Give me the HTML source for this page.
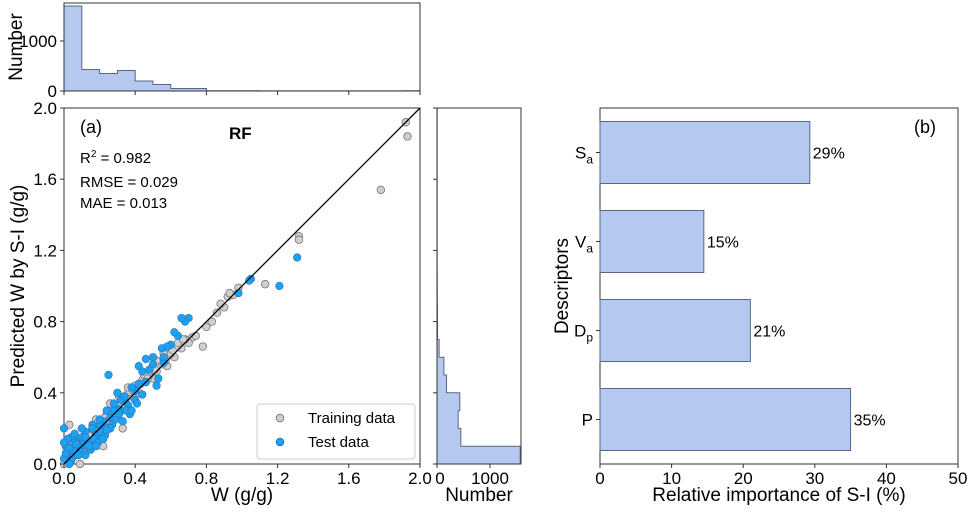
<!DOCTYPE html>
<html><head><meta charset="utf-8"><style>
body{margin:0;background:#fff;font-family:"Liberation Sans",Arial,sans-serif}
svg text{font-family:"Liberation Sans",Arial,sans-serif;fill:#000}
</style></head><body>
<svg id="chart" width="969" height="509" viewBox="0 0 969 509"></svg>
<script>
// ---- data ----
const topHistCounts=[1700,430,350,410,200,130,50,50,5,5,5,3,3,3,3,3,3,3,3,5];
const sideHistCounts=[1570,450,400,430,180,130,40,10,8,5,4,3,3,3,3,3,3,3,3,3];
const trainX=[1.92,1.93,1.78,1.32,1.32,1.13,0.95,0.98,0.9,0.92,0.86,0.83,0.8,0.78,0.72,0.7,0.68,0.66,0.62,0.6,0.58,0.55,0.52,0.5,0.48,0.46,0.44,0.42,0.4,0.38,0.36,0.34,0.32,0.3,0.28,0.26,0.24,0.22,0.2,0.18,0.16,0.14,0.12,0.1,0.08,0.06,0.04,0.02,0.01,0.0,0.26,0.31,0.48,0.52,0.33,0.18,0.12,0.05,0.03,0.22,0.4,0.64,0.56,0.45,0.36,0.15,0.09,0.07,0.02,0.05,0.08,0.11,0.13,0.17,0.21,0.25,0.29,0.35,0.39,0.43,0.47,0.51,0.57,0.61,0.67,0.74,0.88,0.93,0.01,0.04,0.07,0.1,0.14,0.19,0.23,0.27,0.16,0.2,0.28];
const trainY=[1.92,1.84,1.54,1.28,1.26,1.01,0.95,0.99,0.88,0.94,0.85,0.8,0.77,0.66,0.71,0.68,0.7,0.65,0.6,0.62,0.55,0.56,0.52,0.48,0.5,0.46,0.47,0.4,0.42,0.38,0.4,0.35,0.3,0.33,0.3,0.24,0.28,0.2,0.22,0.18,0.1,0.15,0.12,0.14,0.05,0.1,0.06,0.03,0.01,0.0,0.34,0.38,0.52,0.58,0.2,0.25,0.08,0.12,0.22,0.1,0.44,0.68,0.62,0.5,0.43,0.12,0.0,0.07,0.04,0.08,0.1,0.09,0.14,0.19,0.22,0.27,0.31,0.37,0.41,0.45,0.48,0.53,0.58,0.64,0.7,0.72,0.9,0.96,0.12,0.02,0.13,0.06,0.16,0.23,0.26,0.3,0.2,0.17,0.26];
const testX=[1.21,1.31,1.05,1.04,0.98,0.7,0.68,0.66,0.64,0.6,0.58,0.56,0.5,0.48,0.46,0.44,0.42,0.4,0.38,0.36,0.34,0.32,0.3,0.28,0.26,0.24,0.22,0.2,0.18,0.16,0.14,0.12,0.1,0.08,0.06,0.04,0.02,0.0,0.0,0.01,0.25,0.32,0.37,0.4,0.46,0.53,0.56,0.28,0.24,0.18,0.15,0.12,0.06,0.04,0.1,0.2,0.3,0.34,0.42,0.5,0.62,0.55,0.01,0.03,0.05,0.07,0.09,0.11,0.13,0.17,0.19,0.21,0.23,0.27,0.29,0.31,0.33,0.35,0.02,0.04,0.06,0.08,0.1,0.14,0.16,0.22,0.26,0.38,0.41,0.44,0.52,0.0,0.03,0.12,0.18,0.24];
const testY=[1.0,1.16,1.04,1.03,0.96,0.82,0.8,0.82,0.72,0.67,0.66,0.57,0.6,0.53,0.59,0.52,0.55,0.41,0.43,0.33,0.36,0.3,0.31,0.3,0.26,0.2,0.24,0.22,0.17,0.22,0.12,0.18,0.1,0.13,0.08,0.15,0.05,0.03,0.2,0.1,0.5,0.36,0.28,0.36,0.46,0.48,0.6,0.34,0.3,0.16,0.08,0.05,0.12,0.02,0.2,0.25,0.4,0.38,0.45,0.56,0.74,0.65,0.06,0.09,0.04,0.11,0.07,0.13,0.1,0.14,0.12,0.18,0.16,0.22,0.25,0.28,0.24,0.3,0.14,0.02,0.17,0.05,0.15,0.1,0.2,0.14,0.2,0.3,0.34,0.39,0.44,0.12,0.0,0.15,0.1,0.19];
const descriptors=["Sa","Va","Dp","P"];
const importance=[29.3,14.5,21,35];
const importanceLabels=["29%","15%","21%","35%"];
const mainTicks=[0,0.4,0.8,1.2,1.6,2.0];
const mainTickLabels=["0.0","0.4","0.8","1.2","1.6","2.0"];
const impTicks=[0,10,20,30,40,50];

const svg=document.getElementById('chart');
const NS='http://www.w3.org/2000/svg';
function mk(tag,attrs,parent,txt){const e=document.createElementNS(NS,tag);for(const k in attrs)e.setAttribute(k,attrs[k]);if(txt!==undefined)e.textContent=txt;(parent||svg).appendChild(e);return e;}
const L=64,R=420,T=108,B=464;
const sx=v=>L+(v/2)*(R-L);
const sy=v=>B-(v/2)*(B-T);
const hy=c=>91-c*0.05;
const hx=c=>437+c*0.053;
const bx=v=>600+v*(958-600)/50;

// ---- top histogram ----
let g=mk('g',{});
let d='M'+sx(0)+' 91';
topHistCounts.forEach((c,i)=>{d+=' L'+sx(i*0.1)+' '+hy(c)+' L'+sx((i+1)*0.1)+' '+hy(c);});
d+=' L'+sx(2)+' 91 Z';
let p=mk('path',{d:d,fill:'#b4c8f0',stroke:'#5a6680','stroke-width':1},g);
mk('rect',{x:L,y:3,width:R-L,height:88,fill:'none',stroke:'#333','stroke-width':1},g);
[[0,'0'],[1000,'1000']].forEach(([c,l])=>{mk('line',{x1:L-4,x2:L,y1:hy(c),y2:hy(c),stroke:'#333'},g);let t=mk('text',{x:L-7,y:hy(c)+6,'text-anchor':'end','font-size':17},g,l);});
mainTicks.forEach(v=>mk('line',{x1:sx(v),x2:sx(v),y1:91,y2:95,stroke:'#333'},g));
let yt=mk('text',{x:22,y:47,'text-anchor':'middle','font-size':19,transform:'rotate(-90 22 47)'},g,'Number');

// ---- main scatter ----
g=mk('g',{});
mk('rect',{x:L,y:T,width:R-L,height:B-T,fill:'#fff',stroke:'#333'},g);
trainX.forEach((x,i)=>{let c=mk('circle',{cx:sx(x),cy:sy(trainY[i]),r:3.8,fill:'#cfcfcf',stroke:'#777','stroke-width':0.8},g);});
testX.forEach((x,i)=>{let c=mk('circle',{cx:sx(x),cy:sy(testY[i]),r:3.8,fill:'#1aa3f5',stroke:'#3070b0','stroke-width':0.6},g);});
let dl=mk('line',{x1:sx(0),y1:sy(0),x2:sx(2),y2:sy(2),stroke:'#000','stroke-width':1.3},g);
mainTicks.forEach((v,i)=>{
 mk('line',{x1:sx(v),x2:sx(v),y1:B,y2:B+4,stroke:'#333'},g);
 let t=mk('text',{x:sx(v),y:B+20,'text-anchor':'middle','font-size':17},g,mainTickLabels[i]);
 mk('line',{x1:L-4,x2:L,y1:sy(v),y2:sy(v),stroke:'#333'},g);
 t=mk('text',{x:L-7,y:sy(v)+6,'text-anchor':'end','font-size':17},g,mainTickLabels[i]);
});
let t=mk('text',{x:242,y:501,'text-anchor':'middle','font-size':19},g,'W (g/g)');
t=mk('text',{x:24,y:286,'text-anchor':'middle','font-size':19,transform:'rotate(-90 24 286)'},g,'Predicted W by S-I (g/g)');
t=mk('text',{x:80,y:133,'font-size':18},g,'(a)');
t=mk('text',{x:229,y:139,'font-size':17,'font-weight':'bold'},g,'RF');
t=mk('text',{x:80,y:163,'font-size':15},g);t.innerHTML='R<tspan dy="-6" font-size="10">2</tspan><tspan dy="6"> = 0.982</tspan>';
t=mk('text',{x:80,y:187,'font-size':15},g,'RMSE = 0.029');
t=mk('text',{x:80,y:208,'font-size':15},g,'MAE = 0.013');
let lg=mk('g',{},g);
mk('rect',{x:257,y:404,width:158,height:55,rx:3,fill:'#fff',stroke:'#ccc'},lg);
mk('circle',{cx:280,cy:418,r:3.8,fill:'#cfcfcf',stroke:'#777'},lg);
t=mk('text',{x:308,y:423,'font-size':15},lg,'Training data');
mk('circle',{cx:280,cy:442,r:3.8,fill:'#1aa3f5',stroke:'#3070b0'},lg);
t=mk('text',{x:308,y:447,'font-size':15},lg,'Test data');

// ---- side histogram ----
g=mk('g',{});
d='M437 '+sy(0);
sideHistCounts.forEach((c,i)=>{d+=' L'+hx(c)+' '+sy(i*0.1)+' L'+hx(c)+' '+sy((i+1)*0.1);});
d+=' L437 '+sy(2)+' Z';
p=mk('path',{d:d,fill:'#b4c8f0',stroke:'#5a6680','stroke-width':1},g);
mk('rect',{x:437,y:T,width:84,height:B-T,fill:'none',stroke:'#333'},g);
mainTicks.forEach(v=>mk('line',{x1:433,x2:437,y1:sy(v),y2:sy(v),stroke:'#333'},g));
[[0,'0'],[1000,'1000']].forEach(([c,l])=>{mk('line',{x1:hx(c),x2:hx(c),y1:B,y2:B+4,stroke:'#333'},g);t=mk('text',{x:hx(c)+(c?0:3),y:B+20,'text-anchor':'middle','font-size':17},g,l);});
t=mk('text',{x:479,y:501,'text-anchor':'middle','font-size':19},g,'Number');

// ---- importance bars ----
g=mk('g',{});
mk('rect',{x:600,y:T,width:358,height:B-T,fill:'#fff',stroke:'#333'},g);
const band=(B-T)/4;
const subs={Sa:['S','a'],Va:['V','a'],Dp:['D','p'],P:['P','']};
descriptors.forEach((k,i)=>{
 const cy=T+band*(i+0.5);
 let r=mk('rect',{x:600,y:cy-31,width:bx(importance[i])-600,height:62,fill:'#b4c8f0',stroke:'#5a6680'},g);
 let lt=mk('text',{x:bx(importance[i])+3,y:cy+6,'font-size':16},g,importanceLabels[i]);
 mk('line',{x1:596,x2:600,y1:cy,y2:cy,stroke:'#333'},g);
 let yl=mk('text',{x:593,y:cy+6,'text-anchor':'end','font-size':17},g);
 yl.innerHTML=subs[k][0]+(subs[k][1]?'<tspan dy="5" font-size="12">'+subs[k][1]+'</tspan>':'');
 
});
impTicks.forEach(v=>{mk('line',{x1:bx(v),x2:bx(v),y1:B,y2:B+4,stroke:'#333'},g);t=mk('text',{x:bx(v),y:B+20,'text-anchor':'middle','font-size':17},g,String(v));});
t=mk('text',{x:779,y:501,'text-anchor':'middle','font-size':19},g,'Relative importance of S-I (%)');
t=mk('text',{x:568,y:286,'text-anchor':'middle','font-size':19,transform:'rotate(-90 568 286)'},g,'Descriptors');
t=mk('text',{x:914,y:133,'font-size':18},g,'(b)');
</script>
</body></html>
